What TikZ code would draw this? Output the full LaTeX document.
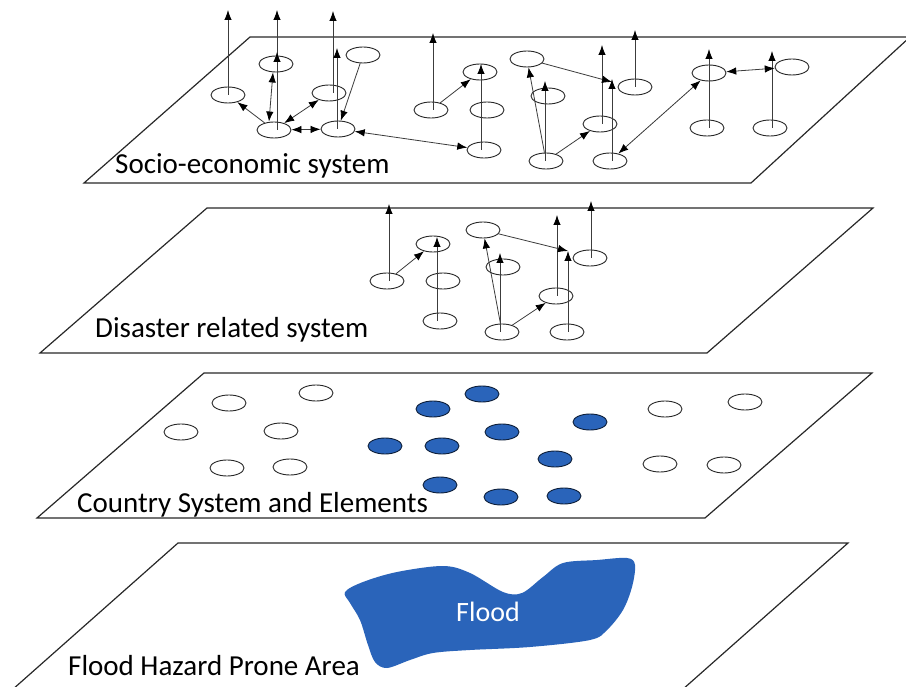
\documentclass[tikz,border=0pt]{standalone}
\usepackage{fontspec}
\setmainfont{Carlito}
\usetikzlibrary{shapes.geometric,arrows.meta}
\definecolor{floodblue}{RGB}{42,100,186}
\definecolor{planeline}{RGB}{40,40,40}
\definecolor{arrowline}{RGB}{60,60,60}
\tikzset{
  plane/.style={draw=planeline,line width=1.2pt,fill=white,line join=miter},
  elem/.style={ellipse,draw=black!85,line width=0.9pt,minimum width=34pt,minimum height=16pt,inner sep=0pt},
  belem/.style={elem,fill=floodblue,draw=black!70!floodblue},
  tip/.style={Latex[length=10pt,width=7.5pt,black]},
  link/.style={draw=arrowline,line width=0.8pt,-{Latex[length=10pt,width=7.5pt,black]}},
  dlink/.style={draw=arrowline,line width=0.8pt,{Latex[length=10pt,width=7.5pt,black]}-{Latex[length=10pt,width=7.5pt,black]}},
  lbl/.style={anchor=base west,inner sep=0pt,font=\fontsize{29}{31}\selectfont,text=black}
}
\begin{document}
\begin{tikzpicture}[x=1pt,y=-1pt]
\useasboundingbox (0,0) rectangle (906,687);
\clip (0,0) rectangle (906,687);
% ---------- planes ----------
\draw[plane] (84,183) -- (751,183) -- (910,37) -- (250,37) -- cycle;
\draw[plane] (40,353) -- (707,353) -- (873,208) -- (207,208) -- cycle;
\draw[plane] (37,518) -- (705,518) -- (872,373) -- (204,373) -- cycle;
\draw[plane] (12,690) -- (178,543) -- (848,543) -- (682,690);
% ---------- labels ----------
\node[lbl] (l1) at (115,174) {Socio-economic system};
\node[lbl] (l2) at (95,338) {Disaster related system};
\node[lbl] (l3) at (77,512) {Country System and Elements};
\node[lbl] (l4) at (68,675) {Flood Hazard Prone Area};
% ---------- plane 1 elements ----------
\node[elem] (s1) at (228,95) {};
\node[elem] (s2) at (276,64) {};
\node[elem] (s3) at (329,93) {};
\node[elem] (s4) at (363,55) {};
\node[elem] (s5) at (274,130) {};
\node[elem] (s6) at (338,129) {};
\node[elem] (s7) at (431,110) {};
\node[elem] (s8) at (480,72) {};
\node[elem] (s9) at (487,110) {};
\node[elem] (s10) at (484,150) {};
\node[elem] (s11) at (527,59) {};
\node[elem] (s12) at (548,96) {};
\node[elem] (s13) at (546,161) {};
\node[elem] (s14) at (600,124) {};
\node[elem] (s15) at (610,161) {};
\node[elem] (s16) at (635,87) {};
\node[elem] (s17) at (709,73) {};
\node[elem] (s18) at (707,128) {};
\node[elem] (s19) at (792,67) {};
\node[elem] (s20) at (770,128) {};
% tips
\coordinate (t1) at (228,10);
\coordinate (t2) at (277,10);
\coordinate (t2b) at (277,52);
\coordinate (t3) at (333,11);
\coordinate (t6) at (337,48);
\coordinate (t7) at (433,33);
\coordinate (t10) at (481,64);
\coordinate (t13) at (545,81);
\coordinate (t11) at (612,82);
\coordinate (t15) at (612,79);
\coordinate (t16) at (635,30);
\coordinate (t14) at (602,45);
\coordinate (t18) at (709,49);
\coordinate (t20) at (772,51);
% vertical arrows plane 1
\draw[link] (s1.center) -- (t1);
\draw[link] (s2.center -| t2) -- (t2);
\draw[link] (s5.center -| t2b) -- (t2b);
\draw[link] (s3.center -| t3) -- (t3);
\draw[link] (s6.center -| t6) -- (t6);
\draw[link] (s7.center -| t7) -- (t7);
\draw[link] (s10.center -| t10) -- (t10);
\draw[link] (s13.center -| t13) -- (t13);
\draw[link] (s15.center -| t15) -- (t15);
\draw[link] (s16.center) -- (t16);
\draw[link] (s14.center -| t14) -- (t14);
\draw[link] (s18.center -| t18) -- (t18);
\draw[link] (s20.center -| t20) -- (t20);
% other arrows plane 1
\draw[link] (s4) -- (s6);
\draw[link] (s5) -- (s1);
\draw[dlink] (s5) -- (s3);
\draw[dlink] (s5) -- (s6);
\draw[dlink] ([xshift=-5pt]s5.north) -- ([xshift=-3pt]s2.south);
\draw[dlink] (s6) -- (s10);
\draw[link] (s7) -- (s8);
\draw[link] (s13) -- (s11);
\draw[link] (s13) -- (s14);
\draw[link] (s11) -- (t11);
\draw[dlink] (s17) -- (s19);
\draw[dlink] (s15) -- (s17);
% ---------- plane 2 elements ----------
\node[elem] (d1) at (387,281) {};
\node[elem] (d2) at (433,244) {};
\node[elem] (d3) at (443,281) {};
\node[elem] (d4) at (440,321) {};
\node[elem] (d5) at (483,230) {};
\node[elem] (d6) at (503,267) {};
\node[elem] (d7) at (502,332) {};
\node[elem] (d8) at (556,296) {};
\node[elem] (d9) at (567,332) {};
\node[elem] (d10) at (590,258) {};
\coordinate (u1) at (389,204);
\coordinate (u4) at (437,237);
\coordinate (u7) at (500,253);
\coordinate (u8) at (557,215);
\coordinate (u9) at (568,251);
\coordinate (u10) at (591,201);
\draw[link] (d1.center -| u1) -- (u1);
\draw[link] (d4.center -| u4) -- (u4);
\draw[link] (d7.center -| u7) -- (u7);
\draw[link] (d8.center -| u8) -- (u8);
\draw[link] (d9.center -| u9) -- (u9);
\draw[link] (d10.center -| u10) -- (u10);
\draw[link] (d1) -- (d2);
\draw[link] (d7) -- (d5);
\draw[link] (d7) -- (d8);
\draw[link] (d5) -- (u9);
% ---------- plane 3 elements ----------
\node[elem] (c1) at (229,403) {};
\node[elem] (c2) at (316,393) {};
\node[elem] (c3) at (181,432) {};
\node[elem] (c4) at (281,431) {};
\node[elem] (c5) at (227,468) {};
\node[elem] (c6) at (290,467) {};
\node[elem] (c7) at (665,409) {};
\node[elem] (c8) at (745,402) {};
\node[elem] (c9) at (660,464) {};
\node[elem] (c10) at (724,465) {};
\node[belem] (b1) at (433,409) {};
\node[belem] (b2) at (482,394) {};
\node[belem] (b3) at (385,446) {};
\node[belem] (b4) at (442,446) {};
\node[belem] (b5) at (502,432) {};
\node[belem] (b6) at (590,422) {};
\node[belem] (b7) at (555,459) {};
\node[belem] (b8) at (440,485) {};
\node[belem] (b9) at (501,497) {};
\node[belem] (b10) at (564,496) {};
% ---------- flood ----------
\fill[floodblue] plot[smooth cycle,tension=0.55] coordinates {
 (345,592) (363,582) (397,572) (443,566) (470,573) (503,592) (522,593)
 (543,577) (563,563) (597,560) (627,558) (635,565) (632,587) (623,610)
 (607,630) (590,640) (530,647) (470,650) (433,653) (410,660) (387,668)
 (375,662) (368,645) (360,620) (350,603)};
\node[font=\fontsize{28}{30}\selectfont,text=white] (fl) at (488,612) {Flood};
\end{tikzpicture}
\end{document}
